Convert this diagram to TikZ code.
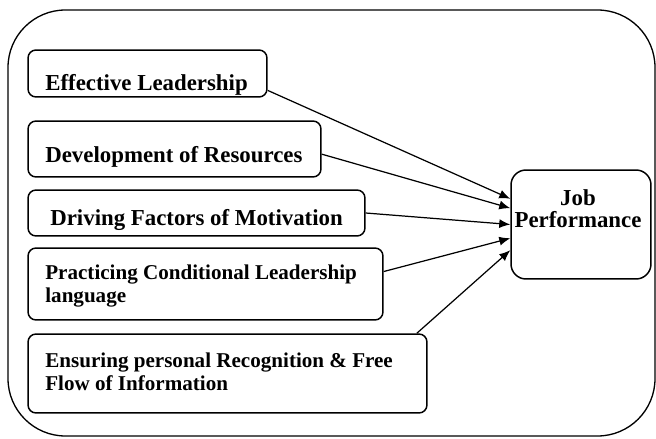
\documentclass[tikz,border=0pt]{standalone}
\usepackage{fontspec}
\setmainfont{Liberation Serif}
\usetikzlibrary{arrows.meta}

\begin{document}
\begin{tikzpicture}[x=0.02cm,y=-0.02cm,
  factor/.style={draw,line width=0.85pt,rounded corners=0.16cm,inner sep=0pt},
  lbl/.style={anchor=base west,inner sep=0pt,align=left,font=\fontsize{13}{12.8}\selectfont\bfseries},
  small lbl/.style={lbl,font=\fontsize{12}{12.8}\selectfont\bfseries},
  link/.style={line width=0.7pt,-{Latex[length=2.2mm,width=1.8mm]}}]
\useasboundingbox (0,0) rectangle (656,439);
%outer frame
\begin{scope}
\clip (0,0) rectangle (656,439);
\draw[line width=0.75pt,rounded corners=1.15cm] (8,10) rectangle (655,436);
\end{scope}
%factor boxes
\node[factor,minimum width=4.78cm,minimum height=0.94cm] (f1) at (147.5,73.5) {};
\node[factor,minimum width=5.86cm,minimum height=1.12cm] (f2) at (174.5,149) {};
\node[factor,minimum width=6.74cm,minimum height=0.92cm] (f3) at (196.5,213) {};
\node[factor,minimum width=7.10cm,minimum height=1.44cm] (f4) at (205.5,284) {};
\node[factor,minimum width=7.98cm,minimum height=1.58cm] (f5) at (227.5,373.5) {};
\node[lbl] (t1) at (45,91) {Effective Leadership};
\node[lbl] (t2) at (45,162) {Development of Resources};
\node[lbl] (t3) at (50,225) {Driving Factors of Motivation};
\node[small lbl] (t4) at (45,302) {Practicing Conditional Leadership\\language};
\node[small lbl] (t5) at (45,390) {Ensuring personal Recognition \& Free\\Flow of Information};
%outcome
\node[factor,rounded corners=0.3cm,minimum width=2.8cm,minimum height=2.18cm] (job) at (581,224.5) {};
\node[anchor=base,inner sep=0pt,align=center,font=\fontsize{13}{12.5}\selectfont\bfseries] (tj) at (578,227) {Job\\Performance};
%arrows
\draw[link] (f1.-8) -- (job.160);
\draw[link] (f2.-2) -- (job.167);
\draw[link] (f3.east) -- (job.180);
\draw[link] (f4.4) -- (job.191);
\draw[link] (f5.12) -- (job.200);
\end{tikzpicture}
\end{document}
